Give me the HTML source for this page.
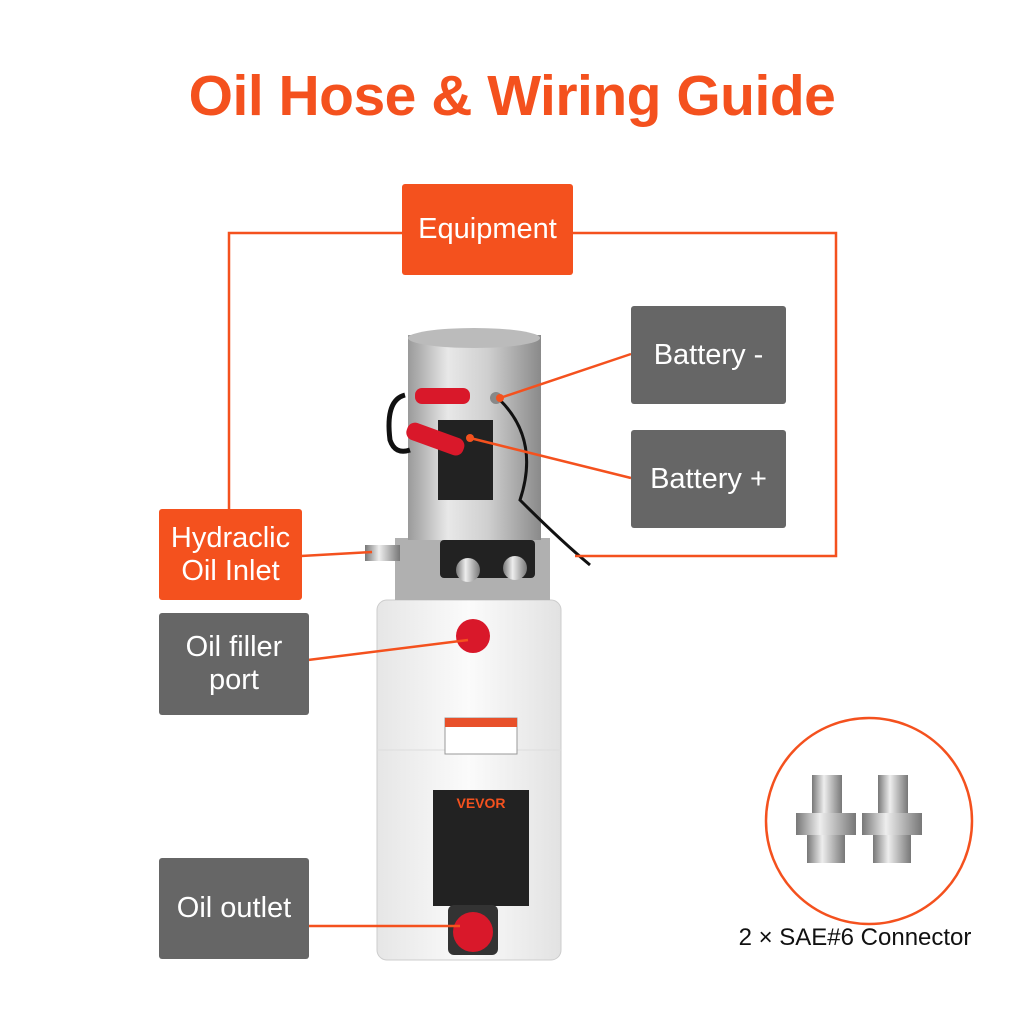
<!DOCTYPE html>
<html><head><meta charset="utf-8"><style>
body{margin:0;width:1024px;height:1024px;background:#fff;position:relative;overflow:hidden;font-family:"Liberation Sans",sans-serif}
.t{position:absolute;left:0;width:1024px;top:63px;text-align:center;font-size:57px;font-weight:bold;color:#f4511e;letter-spacing:-0.5px}
.b{position:absolute;color:#fff;display:flex;align-items:center;justify-content:center;text-align:center;font-size:29px;line-height:33px;border-radius:3px}
.o{background:#f4511e}.g{background:#666}
</style></head><body>
<div class="t">Oil Hose &amp; Wiring Guide</div>
<svg width="1024" height="1024" style="position:absolute;left:0;top:0">
<defs>
<linearGradient id="m" x1="0" x2="1"><stop offset="0" stop-color="#9a9a9a"/><stop offset=".3" stop-color="#e8e8e8"/><stop offset=".6" stop-color="#cfcfcf"/><stop offset="1" stop-color="#8a8a8a"/></linearGradient>
<linearGradient id="tk" x1="0" x2="1"><stop offset="0" stop-color="#e6e6e6"/><stop offset=".5" stop-color="#fbfbfb"/><stop offset="1" stop-color="#e2e2e2"/></linearGradient>
<linearGradient id="c" x1="0" x2="1"><stop offset="0" stop-color="#777"/><stop offset=".4" stop-color="#eee"/><stop offset="1" stop-color="#777"/></linearGradient>
</defs>
<rect x="377" y="600" width="184" height="360" rx="10" fill="url(#tk)" stroke="#ccc"/>
<line x1="377" y1="750" x2="561" y2="750" stroke="#ddd"/>
<rect x="445" y="718" width="72" height="36" fill="#fff" stroke="#999"/>
<rect x="445" y="718" width="72" height="9" fill="#e8502a"/>
<rect x="433" y="790" width="96" height="116" fill="#222"/>
<text x="481" y="808" font-size="14" font-weight="bold" fill="#f4511e" text-anchor="middle">VEVOR</text>
<circle cx="473" cy="636" r="17" fill="#d9182a"/>
<rect x="448" y="905" width="50" height="50" rx="6" fill="#333"/>
<circle cx="473" cy="932" r="20" fill="#d9182a"/>
<rect x="395" y="538" width="155" height="62" fill="#b0b0b0"/>
<rect x="365" y="545" width="35" height="16" fill="url(#c)"/>
<rect x="440" y="540" width="95" height="38" rx="4" fill="#222"/>
<circle cx="468" cy="570" r="12" fill="url(#c)"/>
<circle cx="515" cy="568" r="12" fill="url(#c)"/>
<rect x="408" y="335" width="133" height="205" fill="url(#m)"/>
<ellipse cx="474" cy="338" rx="66" ry="10" fill="#bbb"/>
<rect x="438" y="420" width="55" height="80" fill="#222"/>
<rect x="415" y="388" width="55" height="16" rx="7" fill="#d9182a"/>
<rect x="405" y="430" width="60" height="18" rx="8" fill="#d9182a" transform="rotate(20 435 440)"/>
<path d="M405 395 Q385 400 390 440 Q395 455 410 450" fill="none" stroke="#111" stroke-width="5"/>
<path d="M500 400 Q540 440 520 500 Q560 540 590 565" fill="none" stroke="#111" stroke-width="3"/>
<circle cx="496" cy="398" r="6" fill="#888"/>
<g fill="none" stroke="#f4511e" stroke-width="2.5">
<polyline points="402,233 229,233 229,510"/>
<polyline points="572,233 836,233 836,556 575,556"/>
<line x1="301" y1="556" x2="372" y2="552"/>
<line x1="631" y1="354" x2="500" y2="398"/>
<line x1="631" y1="478" x2="470" y2="438"/>
<line x1="308" y1="660" x2="468" y2="640"/>
<line x1="308" y1="926" x2="460" y2="926"/>
</g>
<g fill="#f4511e"><circle cx="500" cy="398" r="4"/><circle cx="470" cy="438" r="4"/></g>
<circle cx="869" cy="821" r="103" fill="none" stroke="#f4511e" stroke-width="2.5"/>
<g fill="url(#c)">
<rect x="812" y="775" width="30" height="40"/><rect x="796" y="813" width="60" height="22"/><rect x="807" y="835" width="38" height="28"/>
<rect x="878" y="775" width="30" height="40"/><rect x="862" y="813" width="60" height="22"/><rect x="873" y="835" width="38" height="28"/>
</g>
<text x="855" y="945" font-size="24" fill="#111" text-anchor="middle">2 × SAE#6 Connector</text>
</svg>
<div class="b o" style="left:402px;top:184px;width:171px;height:91px">Equipment</div>
<div class="b g" style="left:631px;top:306px;width:155px;height:98px">Battery -</div>
<div class="b g" style="left:631px;top:430px;width:155px;height:98px">Battery +</div>
<div class="b o" style="left:159px;top:509px;width:143px;height:91px">Hydraclic<br>Oil Inlet</div>
<div class="b g" style="left:159px;top:613px;width:150px;height:102px">Oil filler<br>port</div>
<div class="b g" style="left:159px;top:858px;width:150px;height:101px">Oil outlet</div>
</body></html>
